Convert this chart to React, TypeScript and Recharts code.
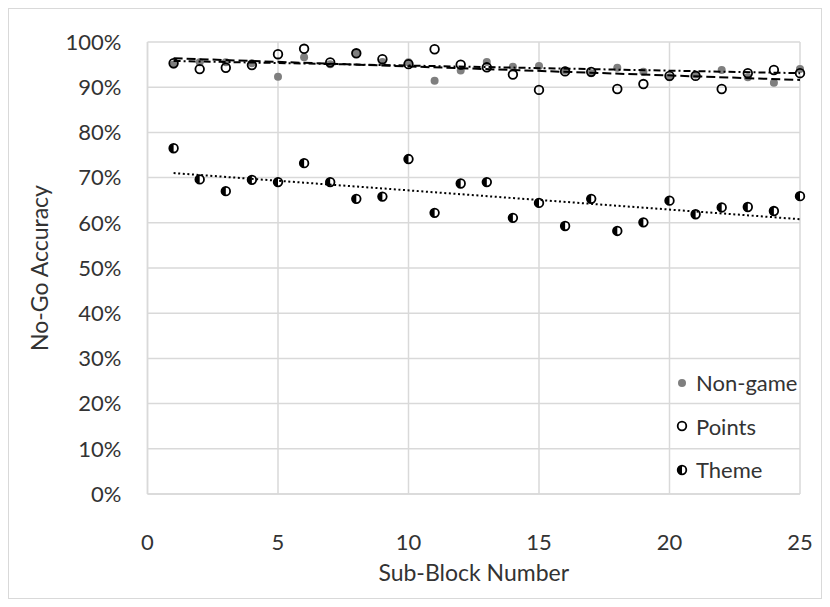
import React from "react";
import { ScatterChart, Scatter, XAxis, YAxis, CartesianGrid } from "recharts";

// Sub-block numbers (x) and accuracy (%) per condition
const subBlocks = [1, 2, 3, 4, 5, 6, 7, 8, 9, 10, 11, 12, 13, 14, 15, 16, 17, 18, 19, 20, 21, 22, 23, 24, 25];
const nonGame = [95.0, 95.5, 95.5, 95.3, 92.3, 96.6, 95.1, 97.5, 95.6, 95.5, 91.4, 93.7, 95.6, 94.5, 94.7, 93.7, 93.1, 94.3, 93.4, 92.2, 92.8, 93.8, 92.2, 91.0, 94.0];
const points = [95.3, 94.0, 94.3, 94.9, 97.3, 98.5, 95.5, 97.5, 96.2, 95.1, 98.4, 95.0, 94.4, 92.8, 89.4, 93.5, 93.4, 89.6, 90.7, 92.5, 92.5, 89.6, 93.1, 93.8, 93.1];
const theme = [76.5, 69.6, 67.0, 69.5, 69.0, 73.2, 69.0, 65.3, 65.8, 74.1, 62.2, 68.7, 69.0, 61.1, 64.4, 59.3, 65.3, 58.2, 60.1, 64.9, 61.9, 63.4, 63.5, 62.6, 65.9];

// linear trendline end points
const trendX = [1, 25];
const nonGameTrend = [95.8, 93.1];
const pointsTrend = [96.4, 91.6];
const themeTrend = [71.0, 60.8];

const xTicks = [0, 5, 10, 15, 20, 25];
const yTicks = [0, 10, 20, 30, 40, 50, 60, 70, 80, 90, 100];
const legendNames = ["Non-game", "Points", "Theme"];

const FONT = "Lato, 'Open Sans', sans-serif";
const TEXT = "#333333";
const GRID = "#d9d9d9";

const toXY = (xs: number[], ys: number[]) => ys.map((y, i) => ({ x: xs[i], y }));

const GrayDot = (p: any) => <circle cx={p.cx} cy={p.cy} r={4} fill="#7f7f7f" />;
const OpenDot = (p: any) => (
  <circle cx={p.cx} cy={p.cy} r={4.3} fill="none" stroke="#000" strokeWidth={1.8} />
);
const HalfDot = (p: any) => {
  const r = 4.3;
  return (
    <g>
      <circle cx={p.cx} cy={p.cy} r={r} fill="#fff" stroke="#000" strokeWidth={1.8} />
      <path
        d={`M ${p.cx} ${p.cy - r} A ${r} ${r} 0 0 0 ${p.cx} ${p.cy + r} Z`}
        fill="#000"
      />
    </g>
  );
};
const NoDot = () => <g />;

const legendShapes = [GrayDot, OpenDot, HalfDot];

export default function App() {
  return (
    <div
      style={{
        position: "relative",
        width: 812,
        height: 589,
        border: `1px solid ${GRID}`,
        fontFamily: FONT,
        background: "#fff",
      }}
    >
      <ScatterChart
        width={812}
        height={589}
        margin={{ top: 33, right: 21, left: 0, bottom: 0 }}
      >
        <CartesianGrid stroke={GRID} strokeWidth={1.5} />
        <XAxis
          type="number"
          dataKey="x"
          domain={[0, 25]}
          ticks={xTicks}
          height={104}
          stroke={GRID}
          strokeWidth={1.5}
          tickLine={false}
          tickSize={0}
          tickMargin={40}
          tick={{ fontSize: 22, fill: TEXT, fontFamily: FONT }}
          label={{
            value: "Sub-Block Number",
            position: "insideBottom",
            offset: 17,
            style: { fontSize: 23, fill: TEXT, fontFamily: FONT },
          }}
        />
        <YAxis
          type="number"
          dataKey="y"
          domain={[0, 100]}
          ticks={yTicks}
          width={138.5}
          stroke={GRID}
          strokeWidth={1.5}
          tickLine={false}
          tickSize={0}
          tickMargin={26}
          tickFormatter={(v) => `${v}%`}
          tick={{ fontSize: 22, fill: TEXT, fontFamily: FONT }}
          label={{
            value: "No-Go Accuracy",
            angle: -90,
            position: "insideLeft",
            offset: 31,
            style: { fontSize: 23, fill: TEXT, fontFamily: FONT, textAnchor: "middle" },
          }}
        />

        <Scatter data={toXY(subBlocks, nonGame)} shape={GrayDot} isAnimationActive={false} />
        <Scatter data={toXY(subBlocks, points)} shape={OpenDot} isAnimationActive={false} />
        <Scatter data={toXY(subBlocks, theme)} shape={HalfDot} isAnimationActive={false} />

        {/* trendlines */}
        <Scatter
          data={toXY(trendX, themeTrend)}
          shape={NoDot}
          line={{ stroke: "#000", strokeWidth: 2, strokeDasharray: "2 2.6" }}
          isAnimationActive={false}
        />
        <Scatter
          data={toXY(trendX, nonGameTrend)}
          shape={NoDot}
          line={{ stroke: "#000", strokeWidth: 2, strokeDasharray: "7 3 2 3" }}
          isAnimationActive={false}
        />
        <Scatter
          data={toXY(trendX, pointsTrend)}
          shape={NoDot}
          line={{ stroke: "#000", strokeWidth: 2, strokeDasharray: "9 4" }}
          isAnimationActive={false}
        />
      </ScatterChart>

      {/* legend sits inside the plot, bottom right */}
      <div style={{ position: "absolute", left: 666, top: 352 }}>
        {legendNames.map((name, i) => {
          const Shape = legendShapes[i];
          return (
            <div
              key={name}
              style={{ display: "flex", alignItems: "center", height: 43.5 }}
            >
              <svg width={14} height={14}>
                <Shape cx={7} cy={7} />
              </svg>
              <span style={{ marginLeft: 7, fontSize: 22, color: TEXT }}>{name}</span>
            </div>
          );
        })}
      </div>
    </div>
  );
}
